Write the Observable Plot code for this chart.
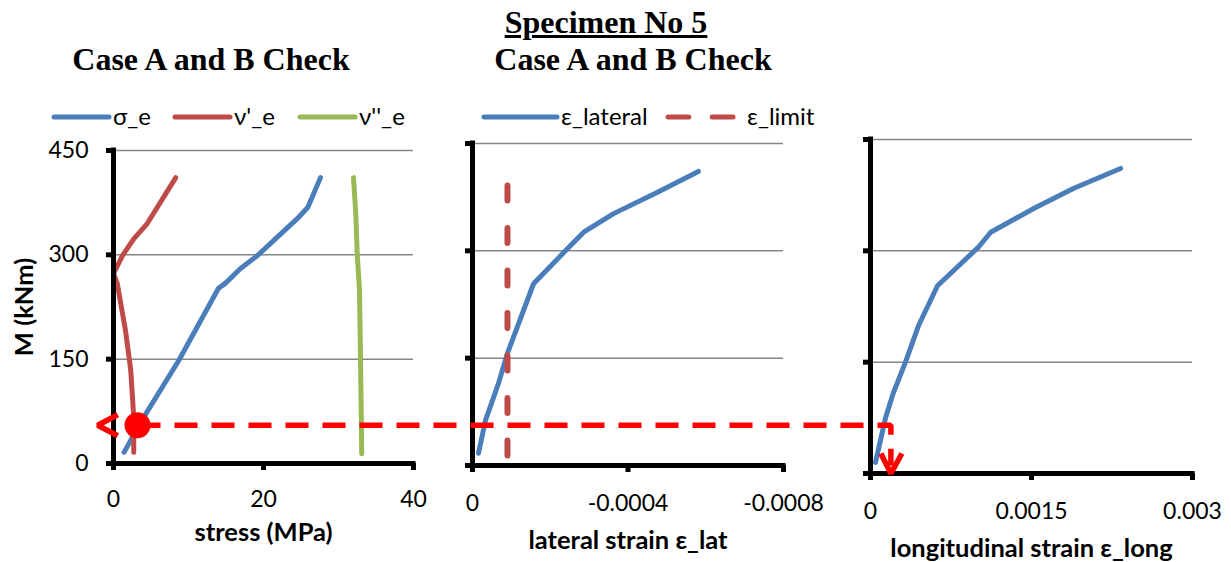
<!DOCTYPE html>
<html><head><meta charset="utf-8">
<script src="https://cdn.jsdelivr.net/npm/d3@7"></script>
<script src="https://cdn.jsdelivr.net/npm/@observablehq/plot@0.6"></script>
<style>
html,body{margin:0;padding:0;background:#fff;}
#fig{position:relative;width:1231px;height:562px;overflow:hidden;background:#fff;font-family:Lato,"Open Sans",sans-serif;color:#000;}
#fig > *{position:absolute;top:0;}
.ttl{font-family:"Liberation Serif","Times New Roman",serif;font-weight:bold;font-size:32px;line-height:32px;white-space:nowrap;transform:translateX(-50%);}
.lt{font-size:24px;line-height:24px;white-space:nowrap;}
</style></head><body><div id="fig"></div>
<script>
// ---------- data ----------
const M_ticks = [0, 150, 300, 450];
// Panel 1: M vs stress
const stressTicks = [0, 20, 40];
const sigmaStress = [1.4, 4.0, 8.7, 14.0, 14.9, 16.9, 19.2, 21.3, 24.5, 25.9, 27.6];
const sigmaM      = [16, 66, 148, 252, 259, 280, 299, 320, 352, 368, 411];
const nu1Stress   = [2.7, 2.7, 2.3, 1.6, 0.5, 0.0, 1.2, 2.7, 4.5, 8.3];
const nu1M        = [16, 66, 134, 191, 259, 273, 299, 323, 345, 411];
const nu2Stress   = [33.1, 33.0, 32.9, 32.8, 32.5, 32.3, 32.0];
const nu2M        = [14, 100, 177, 250, 300, 360, 411];
// Panel 2: M vs lateral strain
const latTicks  = [0, -0.0004, -0.0008];
const latStrain = [-0.0000154, -0.0000334, -0.0000669, -0.00009, -0.000157, -0.000239, -0.000286, -0.000363, -0.000476, -0.000581];
const latM      = [17, 63, 115, 157, 254, 300, 326, 352, 382, 411];
const limitStrain = [-0.00009, -0.00009];
const limitM      = [14, 395];
// Panel 3: M vs longitudinal strain
const longTicks  = [0, 0.0015, 0.003];
const longStrain = [0.0000466, 0.00014, 0.000214, 0.000326, 0.000447, 0.000624, 0.001006, 0.00112, 0.00152, 0.00189, 0.00233];
const longM      = [15, 75, 109, 150, 199, 253, 305, 325, 357, 384, 411];
// Annotation (red dashed read-off)
const markStress = 3.2, markM = 55, arrowStress = -2.1, markLong = 0.00019;

const blue = "#4A7EBB", red = "#BE4B48", green = "#98B954", annot = "#FF0000";
const zip = (a, b) => a.map((v, i) => [v, b[i]]);

const fig = document.getElementById("fig");

function panel({w, ml, mr, mt, mb, xDomain, xTicks, yLabels, lines, label, labelDy, tickPad}) {
  return Plot.plot({
    width: w, height: 562, marginLeft: ml, marginRight: mr, marginTop: mt, marginBottom: mb,
    style: {fontFamily: "Lato, sans-serif", fontSize: "23px", color: "#000", background: "transparent", overflow: "visible"},
    x: {domain: xDomain}, y: {domain: [0, 450]},
    marks: [
      Plot.gridY(M_ticks.filter(d => d > 0), {stroke: "#868686", strokeOpacity: 1, strokeWidth: 1.5}),
      ...lines.map(l => Plot.line(zip(l.x, l.y), {stroke: l.c, strokeWidth: l.dash ? 6 : 5, strokeDasharray: l.dash,
        curve: "linear", strokeLinecap: "round", strokeLinejoin: "round"})),
      Plot.ruleX([xDomain[0]], {stroke: "#000", strokeWidth: 5, strokeLinecap: "square"}),
      Plot.ruleY([0], {stroke: "#000", strokeWidth: 5, strokeLinecap: "square"}),
      Plot.axisY({ticks: M_ticks, tickSize: 7, tickPadding: 18, strokeWidth: 5, stroke: "#000", label: null,
                  tickFormat: yLabels ? (d => String(d)) : (() => ""), fontSize: 23}),
      Plot.axisX({ticks: xTicks, tickSize: 7, tickPadding: tickPad, strokeWidth: 5, stroke: "#000", label: null,
                  tickFormat: d => String(d), fontSize: 23}),
      Plot.text([label], {frameAnchor: "bottom", textAnchor: "middle", lineAnchor: "middle", dy: labelDy, fontWeight: "bold", fontSize: 25.5}),
      ...(yLabels ? [Plot.text(["M (kNm)"], {frameAnchor: "left", textAnchor: "middle", lineAnchor: "middle", dx: -89, rotate: -90, fontWeight: "bold", fontSize: 25.5})] : [])
    ]
  });
}

const off1 = 0, off2 = 420, off3 = 840;
const p1 = panel({w: 420, ml: 113, mr: 7, mt: 150, mb: 99, xDomain: [0, 40], xTicks: stressTicks, yLabels: true,
  lines: [{x: sigmaStress, y: sigmaM, c: blue}, {x: nu1Stress, y: nu1M, c: red}, {x: nu2Stress, y: nu2M, c: green}],
  label: "stress (MPa)", labelDy: 69, tickPad: 20});
const p2 = panel({w: 420, ml: 52, mr: 57, mt: 143, mb: 97, xDomain: [0, -0.0008], xTicks: latTicks, yLabels: false,
  lines: [{x: latStrain, y: latM, c: blue}, {x: limitStrain, y: limitM, c: red, dash: "15,27.5"}],
  label: "lateral strain ε_lat", labelDy: 75, tickPad: 22});
const p3 = panel({w: 391, ml: 30, mr: 39, mt: 139, mb: 89, xDomain: [0, 0.003], xTicks: longTicks, yLabels: false,
  lines: [{x: longStrain, y: longM, c: blue}],
  label: "longitudinal strain ε_long", labelDy: 75, tickPad: 22});
p1.style.left = off1 + "px"; p2.style.left = off2 + "px"; p3.style.left = off3 + "px";
fig.append(p1, p2, p3);

// ---------- annotation overlay, positioned through the panels' scales ----------
const X1 = v => off1 + p1.scale("x").apply(v), Y1 = v => p1.scale("y").apply(v);
const X3 = v => off3 + p3.scale("x").apply(v), Y3 = v => p3.scale("y").apply(v);
const xA = X1(markStress), yA = Y1(markM), xTip = X1(arrowStress), xV = X3(markLong), yB = Y3(0);
const ov = Plot.plot({
  width: 1231, height: 562, margin: 0,
  x: {type: "identity", axis: null}, y: {type: "identity", axis: null},
  style: {background: "transparent", overflow: "visible"},
  marks: [
    Plot.line([[xA, yA], [xV, yA], [xV, yB - 8]], {stroke: annot, strokeWidth: 5.5, strokeDasharray: "23,14", strokeLinecap: "butt", strokeLinejoin: "miter"}),
    Plot.line([[xTip + 20, yA - 10.5], [xTip, yA], [xTip + 20, yA + 10.5]], {stroke: annot, strokeWidth: 5.5, strokeLinecap: "butt", strokeLinejoin: "miter"}),
    Plot.line([[xV - 10, yB - 20], [xV, yB], [xV + 11, yB - 20]], {stroke: annot, strokeWidth: 5.5, strokeLinecap: "butt", strokeLinejoin: "miter"}),
    Plot.dot([[xA, yA]], {r: 13, fill: annot, stroke: null})
  ]
});
ov.style.left = "0px"; ov.style.pointerEvents = "none";
fig.append(ov);

// ---------- titles ----------
function addTitle(text, cx, top, underline) {
  const d = document.createElement("div");
  d.className = "ttl"; d.textContent = text;
  d.style.left = cx + "px"; d.style.top = top + "px";
  if (underline) { d.style.textDecoration = "underline"; d.style.textDecorationThickness = "3px"; d.style.textUnderlineOffset = "2px"; }
  fig.append(d);
}
addTitle("Specimen No 5", 606, 6, true);
addTitle("Case A and B Check", 633, 43, false);
addTitle("Case A and B Check", 211, 43, false);

// ---------- legends ----------
function addLegend(x, y, len, color, label, textX, dashed) {
  const ns = "http://www.w3.org/2000/svg";
  const s = document.createElementNS(ns, "svg");
  s.setAttribute("width", len + 6); s.setAttribute("height", 10);
  s.style.left = (x - 3) + "px"; s.style.top = (y - 5) + "px";
  const segs = dashed ? [[0, 0.32], [0.68, 1]] : [[0, 1]];
  for (const [a, b] of segs) {
    const l = document.createElementNS(ns, "line");
    l.setAttribute("x1", 3 + a * len); l.setAttribute("x2", 3 + b * len);
    l.setAttribute("y1", 5); l.setAttribute("y2", 5);
    l.setAttribute("stroke", color); l.setAttribute("stroke-width", 5); l.setAttribute("stroke-linecap", "round");
    s.append(l);
  }
  fig.append(s);
  const t = document.createElement("div");
  t.className = "lt"; t.textContent = label;
  t.style.left = (textX ?? (x + len + 4)) + "px"; t.style.top = (y - 13) + "px";
  fig.append(t);
}
addLegend(54, 117, 55, blue, "σ_e");
addLegend(175, 117, 55, red, "ν'_e");
addLegend(300, 117, 55, green, "ν''_e");
addLegend(484, 117, 73, blue, "ε_lateral");
addLegend(668, 117, 65, red, "ε_limit", 747, true);
</script></body></html>
